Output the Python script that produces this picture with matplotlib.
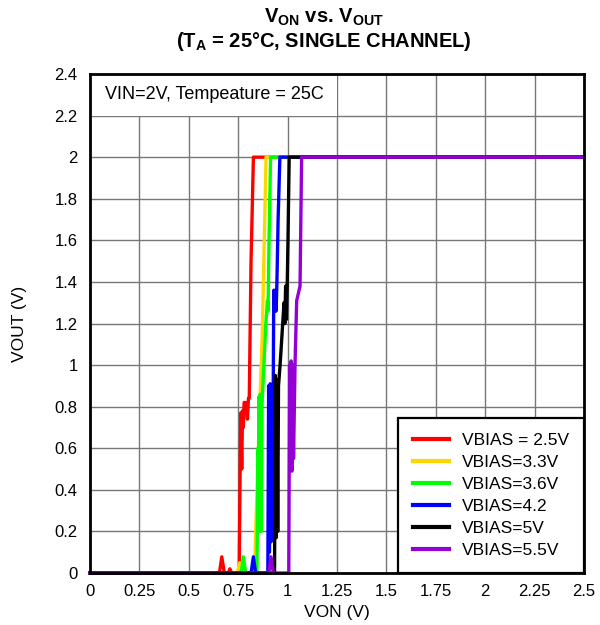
import matplotlib
matplotlib.use("Agg")
import matplotlib.pyplot as plt
from matplotlib.patches import Rectangle
from matplotlib.ticker import FuncFormatter

plt.rcParams['font.family'] = ['Liberation Sans', 'DejaVu Sans']
plt.rcParams['mathtext.fontset'] = 'custom'
plt.rcParams['mathtext.rm'] = 'Liberation Sans'
plt.rcParams['mathtext.bf'] = 'Liberation Sans:bold'

# VON (V) / VOUT (V), one pair per VBIAS setting
von_25 = [0, 0.655, 0.667, 0.68, 0.70, 0.708, 0.716, 0.755, 0.760, 0.763, 0.768, 0.772,
          0.776, 0.780, 0.790, 0.797, 0.802, 0.806, 0.815, 0.827, 2.5]
vout_25 = [0, 0, 0.078, 0, 0, 0.02, 0, 0, 0.52, 0.77, 0.50, 0.78,
           0.70, 0.82, 0.82, 0.74, 0.84, 0.84, 1.5, 2.0, 2.0]

von_33 = [0, 0.745, 0.758, 0.770, 0.832, 0.842, 0.852, 0.862, 0.872, 0.882, 0.891, 2.5]
vout_33 = [0, 0, 0.05, 0, 0, 0.3, 0.6, 0.88, 1.15, 1.6, 2.0, 2.0]

von_36 = [0, 0.765, 0.776, 0.788, 0.845, 0.850, 0.853, 0.856, 0.859, 0.862, 0.866, 0.870,
          0.880, 0.890, 0.898, 0.901, 0.906, 0.914, 2.5]
vout_36 = [0, 0, 0.078, 0, 0, 0.6, 0.2, 0.85, 0.25, 0.86, 0.2, 0.80,
           1.0, 1.2, 1.31, 1.26, 1.6, 2.0, 2.0]

von_42 = [0, 0.815, 0.827, 0.838, 0.900, 0.904, 0.908, 0.912, 0.916, 0.920, 0.924, 0.930,
          0.934, 0.938, 0.942, 0.946, 0.952, 0.961, 2.5]
vout_42 = [0, 0, 0.078, 0, 0, 0.9, 0.1, 0.91, 0.15, 0.9, 0.3, 1.36,
           1.26, 1.36, 1.26, 1.40, 1.7, 2.0, 2.0]

von_50 = [0, 0.934, 0.938, 0.942, 0.946, 0.950, 0.954, 0.962, 0.972, 0.982, 0.986, 0.990,
          0.994, 0.998, 1.002, 1.008, 2.5]
vout_50 = [0, 0, 0.95, 0.17, 0.93, 0.2, 0.90, 1.0, 1.15, 1.30, 1.20, 1.38,
           1.22, 1.38, 1.6, 2.0, 2.0]

von_55 = [0, 0.905, 0.916, 0.928, 1.006, 1.010, 1.014, 1.018, 1.022, 1.026, 1.030, 1.038,
          1.046, 1.063, 1.071, 2.5]
vout_55 = [0, 0, 0.078, 0, 0, 1.0, 0.5, 1.02, 0.49, 1.0, 0.55, 1.02,
           1.31, 1.38, 2.0, 2.0]

labels = ["VBIAS = 2.5V", "VBIAS=3.3V", "VBIAS=3.6V", "VBIAS=4.2", "VBIAS=5V", "VBIAS=5.5V"]
colors = ["#FF0000", "#FFD700", "#00FF00", "#0000FF", "#000000", "#9400D3"]
series = [(von_25, vout_25), (von_33, vout_33), (von_36, vout_36),
          (von_42, vout_42), (von_50, vout_50), (von_55, vout_55)]

x_ticks = [0, 0.25, 0.5, 0.75, 1, 1.25, 1.5, 1.75, 2, 2.25, 2.5]
y_ticks = [0, 0.2, 0.4, 0.6, 0.8, 1, 1.2, 1.4, 1.6, 1.8, 2, 2.2, 2.4]


def main():
    fig = plt.figure(figsize=(6, 6.25), dpi=100)
    ax = fig.add_axes([0.15, 0.0832, 0.8233, 0.7984])

    for (x, y), c, lab in zip(series, colors, labels):
        ax.plot(x, y, color=c, lw=2.4, label=lab, clip_on=False, zorder=3)

    ax.set_xlim(0, 2.5)
    ax.set_ylim(0, 2.4)
    ax.set_xticks(x_ticks)
    ax.set_yticks(y_ticks)
    fmt = FuncFormatter(lambda v, p: f"{v:g}")
    ax.xaxis.set_major_formatter(fmt)
    ax.yaxis.set_major_formatter(fmt)
    ax.tick_params(length=0, labelsize=12)
    ax.tick_params(axis='x', pad=8)
    ax.tick_params(axis='y', pad=9)

    ax.set_axisbelow(True)
    ax.grid(True, color='#777777', lw=1)
    for s in ax.spines.values():
        s.set_linewidth(2)
        s.set_zorder(4)

    # annotation box hides the grid behind it
    ax.add_patch(Rectangle((0, 2.2), 1.25, 0.2, facecolor='white', edgecolor='none', zorder=1.5))
    ax.text(0.075, 2.3, "VIN=2V, Tempeature = 25C", fontsize=13, va='center', zorder=2)

    ax.set_xlabel("VON (V)", fontsize=12.5)
    ax.xaxis.set_label_coords(0.5, -0.064)
    ax.set_ylabel("VOUT (V)", fontsize=12.5)
    ax.yaxis.set_label_coords(-0.128, 0.5)

    fig.text(0.54, 0.9637, r"$\mathbf{V_{ON}}$ vs. $\mathbf{V_{OUT}}$", ha='center', va='baseline',
             fontsize=14.5, fontweight='bold')
    fig.text(0.54, 0.9248, r"($\mathbf{T_{A}}$ = 25°C, SINGLE CHANNEL)", ha='center', va='baseline',
             fontsize=14.5, fontweight='bold')

    leg = ax.legend(loc='lower right', bbox_to_anchor=(1, 0), borderaxespad=0, fontsize=12.5,
                    fancybox=False, framealpha=1, edgecolor='black', handlelength=2.1,
                    labelspacing=0.4, borderpad=0.85, handletextpad=0.75)
    leg.get_frame().set_linewidth(1.6)
    leg.set_zorder(5)
    for h in leg.get_lines():
        h.set_linewidth(3)

    fig.savefig("out.png", dpi=100)


if __name__ == "__main__":
    main()
